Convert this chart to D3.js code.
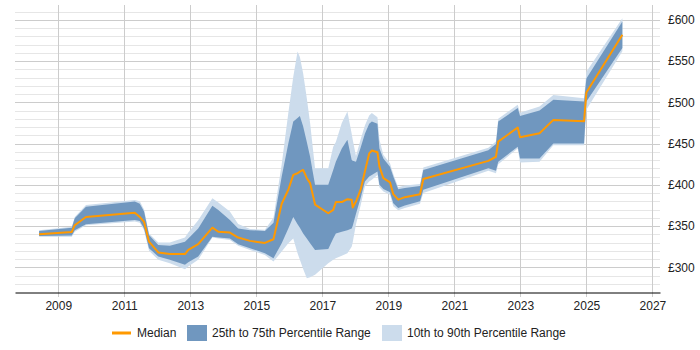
<!DOCTYPE html>
<html>
<head>
<meta charset="utf-8">
<script src="https://cdn.jsdelivr.net/npm/d3@7"></script>
<style>
  body { margin: 0; background: #fff; }
  svg { display: block; font-family: "Liberation Sans", Arial, sans-serif; }
</style>
</head>
<body>
<script>
// dates as decimal years, values in £ per day
const dates = [2008.42, 2009.41, 2009.5, 2009.84, 2011.32, 2011.47, 2011.6, 2011.75, 2012.03, 2012.38,
  2012.84, 2012.94, 2013.24, 2013.67, 2013.85, 2014.2, 2014.45, 2014.81, 2015.26, 2015.52,
  2015.77, 2015.97, 2016.12, 2016.25, 2016.32, 2016.42, 2016.53, 2016.63, 2016.78, 2017.18,
  2017.33, 2017.41, 2017.59, 2017.76, 2017.89, 2017.92, 2018.02, 2018.16, 2018.29, 2018.42,
  2018.5, 2018.67, 2018.73, 2018.85, 2019.05, 2019.15, 2019.3, 2019.5, 2019.96, 2020.06,
  2022.03, 2022.26, 2022.33, 2022.92, 2022.99, 2023.58, 2024.0, 2024.93, 2025.0, 2026.09];
const p10 = [337, 337, 343, 351, 355.5, 354, 345, 320, 309, 305,
  297.5, 301, 309, 336, 335, 333, 326, 321, 315, 307,
  319, 329, 335, 317, 309, 298, 286.7, 288, 291, 305,
  309, 311, 314, 317, 325, 330, 352, 375, 398, 404,
  406, 412, 397, 392, 388, 374, 369, 372, 377, 390,
  417, 414, 425, 444, 427, 428, 448, 448, 491, 562];
const p25 = [338, 338.5, 345, 352, 357.4, 356, 347, 323, 313, 309,
  303, 306, 313, 337, 336, 335, 328, 323, 317, 311,
  329, 347, 361, 352, 348, 341, 335, 329, 321, 322,
  335, 341, 343, 345, 347, 350, 365, 384, 404, 410,
  412, 416, 400, 395, 391, 377.6, 372, 375, 380, 394,
  420, 417, 428, 446, 432, 432, 450, 450, 501, 566];
const median = [340, 342.8, 351, 361, 366, 361, 355, 331, 318, 316,
  316, 321, 328, 348, 343, 342, 336, 332, 329.5, 334,
  377, 394, 412, 414, 416, 418, 408, 402, 376, 365.5,
  369.5, 379, 379, 382.5, 382, 372.5, 379.6, 394, 416, 438,
  441.5, 439.5, 422, 408, 403, 388.6, 382, 385, 388.6, 407,
  429, 434, 452.4, 469.4, 457.7, 462.5, 478.7, 477, 512, 582];
const p75 = [344, 348, 359.5, 373.5, 379.6, 377, 367.5, 339, 327, 326,
  331, 335, 347, 374.7, 369.5, 357.4, 347, 345, 344, 354,
  410, 450, 476.7, 481, 483.5, 470.6, 452, 434, 400, 400,
  418, 428, 444, 454.6, 430, 429, 428, 445, 462, 474,
  476.6, 474, 444, 432, 422, 410, 394.6, 396, 398.6, 418,
  442, 449.6, 476.6, 493, 483.5, 490, 503, 501, 529, 598];
const p90 = [345, 349, 361, 375.5, 381.5, 380, 370, 341, 330, 330,
  336, 342, 357, 383.7, 378.5, 367.5, 352.5, 346.5, 345.5, 360,
  425, 487, 531, 561.6, 555, 535, 505, 475, 420, 420,
  446, 452, 475, 489, 462, 455, 435, 455, 472, 484,
  487, 482, 455, 436, 426, 413, 397, 399, 401, 421,
  445, 452.4, 480, 497, 487.5, 495, 509, 505, 537, 602];

const xTicks = [2009, 2011, 2013, 2015, 2017, 2019, 2021, 2023, 2025, 2027];
const yTicks = [300, 350, 400, 450, 500, 550, 600];
const legendItems = ["Median", "25th to 75th Percentile Range", "10th to 90th Percentile Range"];

const width = 700, height = 350;
const plotLeft = 15, plotRight = 660, plotTop = 5, plotBottom = 292;

const rows = dates.map((d, i) => ({
  t: d, p10: p10[i], p25: p25[i], med: median[i], p75: p75[i], p90: p90[i]
}));

const x = d3.scaleLinear().domain([2007.69, 2027.23]).range([plotLeft, plotRight]);
const y = d3.scaleLinear().domain([270, 618]).range([plotBottom, plotTop]);

const svg = d3.select("body").append("svg")
  .attr("width", width)
  .attr("height", height);

// minor and major horizontal gridlines
const minor = d3.range(280, 620, 10).filter(v => v % 50 !== 0);
svg.append("g").selectAll("line")
  .data(minor)
  .join("line")
  .attr("x1", plotLeft).attr("x2", plotRight)
  .attr("y1", d => Math.round(y(d)) + 0.5).attr("y2", d => Math.round(y(d)) + 0.5)
  .attr("stroke", "#e6e6e6");

svg.append("g").selectAll("line")
  .data(yTicks)
  .join("line")
  .attr("x1", plotLeft).attr("x2", plotRight)
  .attr("y1", d => Math.round(y(d)) + 0.5).attr("y2", d => Math.round(y(d)) + 0.5)
  .attr("stroke", "#cccccc");

// vertical gridlines
svg.append("g").selectAll("line")
  .data(xTicks)
  .join("line")
  .attr("x1", d => Math.round(x(d)) + 0.5).attr("x2", d => Math.round(x(d)) + 0.5)
  .attr("y1", plotTop).attr("y2", plotBottom + 5)
  .attr("stroke", "#cccccc");

// bands
const area = (lo, hi) => d3.area()
  .x(d => x(d.t))
  .y0(d => y(d[lo]))
  .y1(d => y(d[hi]));

svg.append("path")
  .datum(rows)
  .attr("fill", "#ccdcec")
  .attr("d", area("p10", "p90"));

svg.append("path")
  .datum(rows)
  .attr("fill", "#7097bf")
  .attr("d", area("p25", "p75"));

svg.append("path")
  .datum(rows)
  .attr("fill", "none")
  .attr("stroke", "#ff9900")
  .attr("stroke-width", 2)
  .attr("stroke-linejoin", "round")
  .attr("d", d3.line().x(d => x(d.t)).y(d => y(d.med)));

// x axis
const xAxis = svg.append("g")
  .attr("transform", `translate(0,${plotBottom + 0.5})`)
  .call(d3.axisBottom(x).tickValues(xTicks).tickFormat(d3.format("d")).tickSize(0).tickPadding(9).tickSizeOuter(0));
xAxis.select(".domain").attr("stroke", "#000");
xAxis.selectAll("text").attr("font-size", 12).attr("fill", "#222").attr("font-family", "Liberation Sans, Arial, sans-serif");

// y axis on the right
const yAxis = svg.append("g")
  .attr("transform", `translate(${plotRight},0)`)
  .call(d3.axisRight(y).tickValues(yTicks).tickFormat(d => "£" + d).tickSize(0).tickPadding(8));
yAxis.select(".domain").remove();
yAxis.selectAll("text").attr("font-size", 12).attr("fill", "#222").attr("font-family", "Liberation Sans, Arial, sans-serif");

// legend
const ly = 333;
const legend = svg.append("g").attr("font-size", 12).attr("fill", "#222");
legend.append("line")
  .attr("x1", 112).attr("x2", 131).attr("y1", ly).attr("y2", ly)
  .attr("stroke", "#ff9900").attr("stroke-width", 3);
legend.append("text").attr("x", 137).attr("y", ly).attr("dy", "0.35em").text(legendItems[0]);
legend.append("rect").attr("x", 187).attr("y", ly - 8).attr("width", 20).attr("height", 16).attr("fill", "#7097bf");
legend.append("text").attr("x", 212).attr("y", ly).attr("dy", "0.35em").text(legendItems[1]);
legend.append("rect").attr("x", 382).attr("y", ly - 8).attr("width", 20).attr("height", 16).attr("fill", "#ccdcec");
legend.append("text").attr("x", 407).attr("y", ly).attr("dy", "0.35em").text(legendItems[2]);
</script>
</body>
</html>
